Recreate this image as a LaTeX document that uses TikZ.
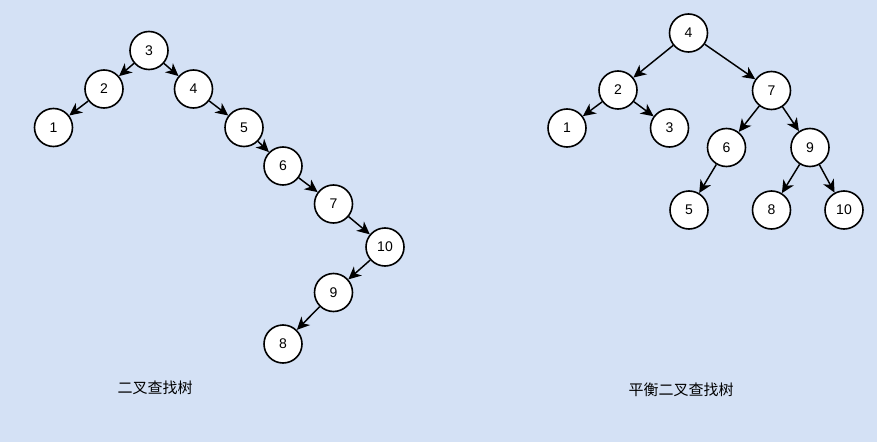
\documentclass[tikz,border=0pt]{standalone}
\usepackage{fontspec}
\setmainfont{Liberation Sans}
\newfontfamily\cjk{Noto Sans CJK SC}
\usetikzlibrary{arrows.meta}
\definecolor{bgblue}{HTML}{D4E1F5}
\begin{document}
\begin{tikzpicture}[x=0.75pt,y=-0.75pt,
  tnode/.style={circle,draw=black,fill=white,line width=1.2pt,minimum size=28.5pt,inner sep=0pt,font=\fontsize{10.5}{12}\selectfont},
  tedge/.style={draw=black,line width=1.1pt,-{Stealth[length=9.5pt,width=9pt,inset=2.8pt]}},
  captext/.style={font=\cjk\fontsize{11.25}{13}\selectfont,inner sep=0pt}]
\fill[bgblue] (0,0) rectangle (877,442);
\useasboundingbox (0,0) rectangle (877,442);
% left tree
\node[tnode] (l3) at (149,50.5) {3};
\node[tnode] (l2) at (104,89) {2};
\node[tnode] (l4) at (193.5,89) {4};
\node[tnode] (l1) at (53.5,127.5) {1};
\node[tnode] (l5) at (244,127.5) {5};
\node[tnode] (l6) at (283,166) {6};
\node[tnode] (l7) at (333.5,204) {7};
\node[tnode] (l10) at (385,247) {10};
\node[tnode] (l9) at (333.5,292.5) {9};
\node[tnode] (l8) at (283,344) {8};
\draw[tedge] (l3) -- (l2);
\draw[tedge] (l3) -- (l4);
\draw[tedge] (l2) -- (l1);
\draw[tedge] (l4) -- (l5);
\draw[tedge] (l5) -- (l6);
\draw[tedge] (l6) -- (l7);
\draw[tedge] (l7) -- (l10);
\draw[tedge] (l10) -- (l9);
\draw[tedge] (l9) -- (l8);
\node[captext] (lcap) at (155,388) {二叉查找树};
% right tree
\node[tnode] (r4) at (688.5,33) {4};
\node[tnode] (r2) at (618,90) {2};
\node[tnode] (r7) at (771.5,90.5) {7};
\node[tnode] (r1) at (567,128) {1};
\node[tnode] (r3) at (669.5,128) {3};
\node[tnode] (r6) at (726.5,147.5) {6};
\node[tnode] (r9) at (810,147.5) {9};
\node[tnode] (r5) at (689,210) {5};
\node[tnode] (r8) at (771.5,210) {8};
\node[tnode] (r10) at (844,210) {10};
\draw[tedge] (r4) -- (r2);
\draw[tedge] (r4) -- (r7);
\draw[tedge] (r2) -- (r1);
\draw[tedge] (r2) -- (r3);
\draw[tedge] (r7) -- (r6);
\draw[tedge] (r7) -- (r9);
\draw[tedge] (r6) -- (r5);
\draw[tedge] (r9) -- (r8);
\draw[tedge] (r9) -- (r10);
\node[captext] (rcap) at (681,390) {平衡二叉查找树};
\end{tikzpicture}
\end{document}
